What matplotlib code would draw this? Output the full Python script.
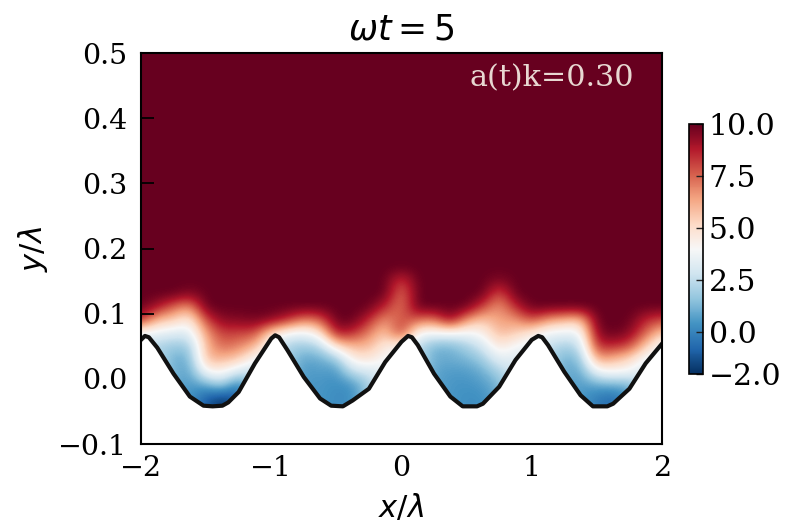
#!/usr/bin/env python3

import matplotlib
matplotlib.use("Agg")
import matplotlib.pyplot as plt
import numpy as np

plt.rcParams['font.family'] = 'DejaVu Serif'
plt.rcParams['mathtext.fontset'] = 'dejavusans'

# values
x_nodes = np.arange(-2, 2.001, 0.125)
y_levels = [-0.05, -0.03, -0.01, 0.01, 0.03, 0.05, 0.07, 0.09, 0.11, 0.13, 0.15, 0.17]

# one line per x node, low y to high y
field = np.array([
    [3.0, 3.0, 3.0, 3.0, 3.0, 3.0, 3.6, 8.5, 10, 10, 10, 10],
    [2.5, 2.5, 2.5, 2.5, 2.5, 2.0, 3.6, 5.8, 9.0, 10, 10, 10],
    [1.0, 1.0, 1.0, 1.2, 1.0, 1.8, 3.2, 5.5, 7.5, 10, 10, 10],
    [0.5, 0.5, 0.5, 0.7, 1.1, 1.8, 3.2, 4.3, 6.5, 9.5, 10, 10],
    [-1.0, -1.0, 0.8, 4.0, 6.0, 6.0, 6.5, 8.0, 10, 10, 10, 10],
    [-2.0, -1.8, 2.0, 4.2, 6.0, 7.5, 8.2, 9.5, 10, 10, 10, 10],
    [-1.0, -1.0, -0.5, 2.8, 5.5, 7.0, 8.0, 9.5, 10, 10, 10, 10],
    [2.5, 2.5, 2.5, 2.5, 3.8, 6.0, 8.0, 9.8, 10, 10, 10, 10],
    [3.5, 3.5, 3.5, 3.5, 3.5, 3.5, 5.0, 9.5, 10, 10, 10, 10],
    [2.0, 2.0, 2.0, 2.0, 2.0, 2.0, 3.8, 8.5, 10, 10, 10, 10],
    [0.5, 0.5, 0.5, 0.5, 0.8, 1.8, 3.5, 7.0, 10, 10, 10, 10],
    [0.5, 0.5, 0.5, 0.7, 1.0, 2.2, 4.6, 7.5, 10, 10, 10, 10],
    [0.2, 0.2, 0.3, 0.4, 1.6, 5.0, 9.0, 10, 10, 10, 10, 10],
    [0.3, 0.3, 0.3, 2.5, 4.5, 6.0, 8.5, 10, 10, 10, 10, 10],
    [2.0, 2.0, 2.0, 2.8, 4.8, 6.0, 7.0, 8.5, 10, 10, 10, 10],
    [3.5, 3.5, 3.5, 3.5, 3.8, 4.5, 5.5, 6.5, 8.5, 10, 10, 10],
    [4.0, 4.0, 4.0, 4.0, 4.0, 4.0, 8.5, 8.0, 7.0, 7.0, 8.0, 10],
    [2.5, 2.5, 2.5, 2.5, 2.5, 2.5, 3.8, 7.5, 10, 10, 10, 10],
    [0.8, 0.8, 0.8, 0.8, 1.0, 1.2, 3.8, 7.0, 10, 10, 10, 10],
    [0.5, 0.5, 0.5, 0.6, 1.0, 1.2, 3.8, 9.5, 10, 10, 10, 10],
    [0.3, 0.3, 0.4, 0.6, 1.2, 2.0, 3.7, 6.5, 10, 10, 10, 10],
    [0.3, 0.3, 0.6, 1.0, 1.8, 3.0, 4.2, 5.5, 8.0, 10, 10, 10],
    [1.0, 1.0, 1.2, 2.0, 3.5, 4.8, 6.0, 6.5, 6.5, 7.5, 9.5, 10],
    [3.0, 3.0, 3.0, 3.0, 3.2, 3.8, 5.5, 6.5, 8.5, 10, 10, 10],
    [3.5, 3.5, 3.5, 3.5, 3.5, 3.5, 4.5, 8.0, 10, 10, 10, 10],
    [2.5, 2.5, 2.5, 2.5, 2.5, 2.6, 3.6, 6.5, 10, 10, 10, 10],
    [1.0, 1.0, 1.0, 1.0, 1.0, 2.0, 3.5, 6.0, 10, 10, 10, 10],
    [0.6, 0.6, 0.6, 0.8, 1.5, 2.5, 3.5, 5.5, 10, 10, 10, 10],
    [-0.2, -0.2, 0.8, 3.6, 6.5, 8.5, 9.5, 10, 10, 10, 10, 10],
    [-0.7, -0.7, 1.0, 4.0, 6.0, 8.5, 10, 10, 10, 10, 10, 10],
    [0.5, 0.5, 1.0, 3.8, 5.2, 8.0, 9.5, 10, 10, 10, 10, 10],
    [3.0, 3.0, 3.0, 3.0, 3.5, 5.5, 7.5, 8.5, 10, 10, 10, 10],
    [3.5, 3.5, 3.5, 3.5, 3.5, 3.5, 5.5, 8.0, 10, 10, 10, 10],
])

surface_x = [-2, -1.97, -1.94, -1.875, -1.75, -1.625, -1.52, -1.45, -1.375, -1.33, -1.25, -1.125,
             -1.0, -0.97, -0.94, -0.875, -0.75, -0.625, -0.54, -0.45, -0.375, -0.25, -0.125,
             0.0, 0.05, 0.08, 0.125, 0.25, 0.375, 0.47, 0.58, 0.625, 0.75, 0.875,
             1.0, 1.05, 1.08, 1.125, 1.25, 1.375, 1.47, 1.58, 1.625, 1.75, 1.875, 2]
surface_y = [0.060, 0.066, 0.064, 0.048, 0.008, -0.027, -0.041, -0.042, -0.041, -0.036, -0.020, 0.024,
             0.062, 0.067, 0.064, 0.044, 0.003, -0.030, -0.041, -0.042, -0.033, -0.015, 0.026,
             0.057, 0.066, 0.064, 0.052, 0.008, -0.027, -0.042, -0.042, -0.038, -0.012, 0.029,
             0.060, 0.066, 0.064, 0.052, 0.011, -0.025, -0.042, -0.042, -0.038, -0.015, 0.024, 0.054]

x_ticks = [-2, -1, 0, 1, 2]
y_ticks = [-0.1, 0.0, 0.1, 0.2, 0.3, 0.4, 0.5]
cbar_ticks = [-2, 0, 2.5, 5, 7.5, 10]
cbar_labels = ['\u22122.0', '0.0', '2.5', '5.0', '7.5', '10.0']

fig = plt.figure(figsize=(7.89, 5.25), dpi=100)
ax = fig.add_axes([0.1787, 0.154, 0.6603, 0.745])

cmap = plt.get_cmap('RdBu_r')
ax.set_facecolor(cmap(1.0))
dx = x_nodes[1] - x_nodes[0]
dy = y_levels[1] - y_levels[0]
mesh = ax.imshow(field.T, origin='lower', cmap=cmap, vmin=-2, vmax=10, aspect='auto',
                 interpolation='bicubic',
                 extent=[x_nodes[0] - dx/2, x_nodes[-1] + dx/2, y_levels[0] - dy/2, y_levels[-1] + dy/2])
ax.fill_between(surface_x, -0.1, surface_y, color='white', lw=0, zorder=2)
ax.plot(surface_x, surface_y, color='#111111', lw=3, zorder=3)

ax.set_xlim(-2, 2)
ax.set_ylim(-0.1, 0.5)
ax.set_xticks(x_ticks)
ax.set_yticks(y_ticks)
ax.tick_params(direction='in', length=9.5, width=1.3, labelsize=20.5, pad=10)
ax.tick_params(axis='x', pad=8)
for s in ax.spines.values():
    s.set_linewidth(1.5)
    s.set_zorder(5)

ax.set_xlabel(r'$x/\lambda$', fontsize=22, labelpad=8)
ax.set_ylabel(r'$y/\lambda$', fontsize=22, labelpad=6)
ax.set_title(r'$\omega t = 5$', fontsize=25, pad=10)
ax.text(0.63, 0.935, 'a(t)k=0.30', transform=ax.transAxes, color='#e8d8d2', fontsize=21.7,
        va='center', zorder=6)

cax = fig.add_axes([0.8733, 0.2876, 0.0177, 0.4762])
cb = fig.colorbar(mesh, cax=cax)
cb.set_ticks(cbar_ticks)
cb.set_ticklabels(cbar_labels)
cax.tick_params(direction='in', length=5, width=1, labelsize=21.5, pad=4, color='#222222')
cb.outline.set_linewidth(1.2)

fig.savefig('out.png', dpi=100)
